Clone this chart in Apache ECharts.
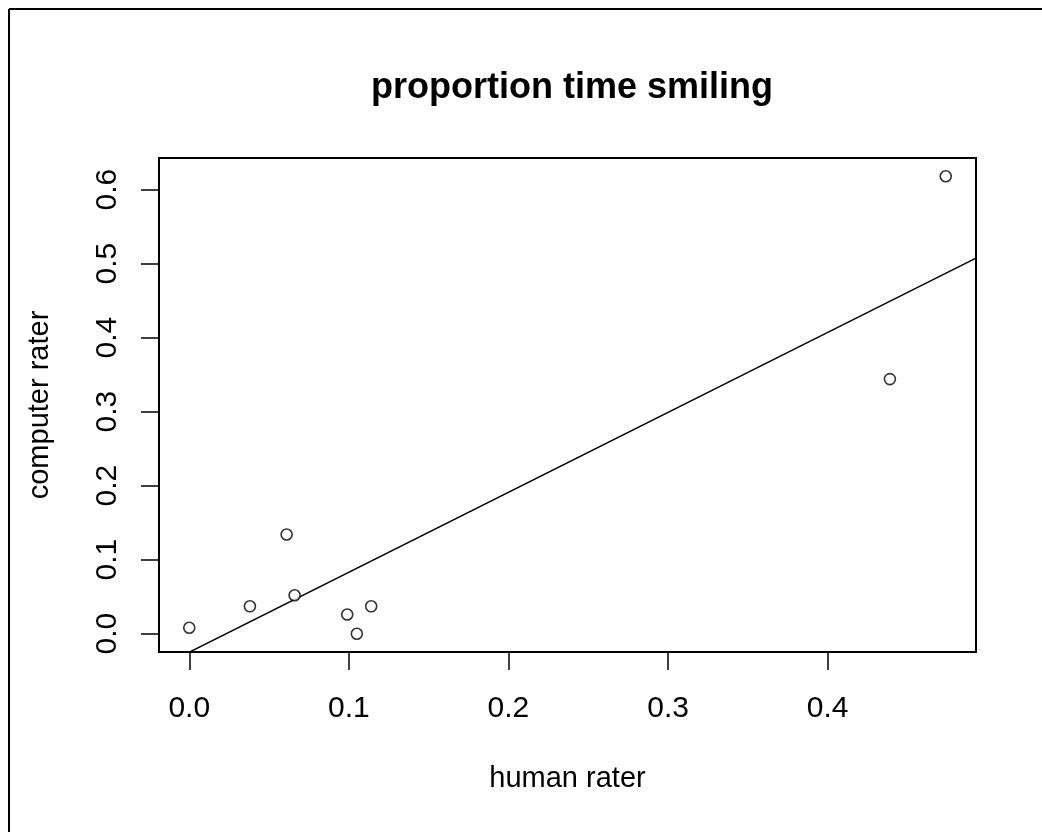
<!DOCTYPE html>
<html>
<head>
<meta charset="utf-8">
<title>proportion time smiling</title>
<script src="https://cdn.jsdelivr.net/npm/echarts@6/dist/echarts.min.js"></script>
<style>
  html, body { margin: 0; padding: 0; background: #fff; }
  #chart { width: 1042px; height: 832px; }
</style>
</head>
<body>
<div id="chart"></div>
<script>
// Proportion of time smiling, as scored by a human rater and by a computer rater
const humanRater    = [0.000, 0.038, 0.061, 0.066, 0.099, 0.105, 0.114, 0.439, 0.474];
const computerRater = [0.008, 0.037, 0.134, 0.052, 0.026, 0.000, 0.037, 0.344, 0.618];

// Fitted least-squares line: computer = intercept + slope * human
const fitIntercept = -0.025;
const fitSlope = 1.08;

const xTicks = [0.0, 0.1, 0.2, 0.3, 0.4];
const yTicks = [0.0, 0.1, 0.2, 0.3, 0.4, 0.5, 0.6];

const FONT = "'Liberation Sans', Arial, sans-serif";

// Axis ranges padded by 4% of the data range on each side
function paddedRange(values) {
  const lo = Math.min(...values), hi = Math.max(...values);
  const pad = (hi - lo) * 0.04;
  return [lo - pad, hi + pad];
}
const [xMin, xMax] = paddedRange(humanRater);
const [yMin, yMax] = paddedRange(computerRater);

const points = humanRater.map((h, i) => [h, computerRater[i]]);
const fitLine = [xMin, xMax].map(x => [x, fitIntercept + fitSlope * x]);

const chart = echarts.init(document.getElementById('chart'), null, { renderer: 'canvas' });

chart.setOption({
  backgroundColor: '#ffffff',
  animation: false,
  title: {
    text: 'proportion time smiling',
    left: 567,
    textAlign: 'center',
    top: 65,
    textStyle: { fontFamily: FONT, fontWeight: 'bold', fontSize: 36, color: '#000' }
  },
  grid: {
    left: 159, top: 158, right: 66, bottom: 180,
    show: true, borderColor: '#000', borderWidth: 2, backgroundColor: 'transparent'
  },
  xAxis: {
    type: 'value',
    min: xMin, max: xMax,
    name: 'human rater',
    nameLocation: 'middle',
    nameGap: 112,
    nameTextStyle: { fontFamily: FONT, fontSize: 29, color: '#000' },
    axisLine: { show: false, onZero: false },
    splitLine: { show: false },
    axisTick: {
      show: true, inside: false, length: 18,
      customValues: xTicks,
      lineStyle: { color: '#000', width: 1.5 }
    },
    axisLabel: {
      customValues: xTicks,
      margin: 42,
      fontFamily: FONT, fontSize: 30, color: '#000',
      formatter: v => v.toFixed(1)
    }
  },
  yAxis: {
    type: 'value',
    min: yMin, max: yMax,
    name: 'computer rater',
    nameLocation: 'middle',
    nameGap: 105,
    nameRotate: 90,
    nameTextStyle: { fontFamily: FONT, fontSize: 29, color: '#000' },
    axisLine: { show: false, onZero: false },
    splitLine: { show: false },
    axisTick: {
      show: true, inside: false, length: 18,
      customValues: yTicks,
      lineStyle: { color: '#000', width: 1.5 }
    },
    axisLabel: {
      customValues: yTicks,
      rotate: 90,
      margin: 36,
      fontFamily: FONT, fontSize: 30, color: '#000',
      formatter: v => v.toFixed(1)
    }
  },
  graphic: [
    { type: 'line', shape: { x1: 9, y1: 9, x2: 1042, y2: 9 }, style: { stroke: '#000', lineWidth: 2 } },
    { type: 'line', shape: { x1: 9, y1: 9, x2: 9, y2: 832 }, style: { stroke: '#000', lineWidth: 2 } }
  ],
  series: [
    {
      name: 'fit',
      type: 'line',
      data: fitLine,
      showSymbol: false,
      clip: true,
      lineStyle: { color: '#000', width: 1.5 },
      z: 2
    },
    {
      name: 'ratings',
      type: 'scatter',
      data: points,
      symbol: 'circle',
      symbolSize: 11,
      itemStyle: { color: '#fff', borderColor: '#000', borderWidth: 1.6 },
      z: 3
    }
  ]
});
</script>
</body>
</html>
